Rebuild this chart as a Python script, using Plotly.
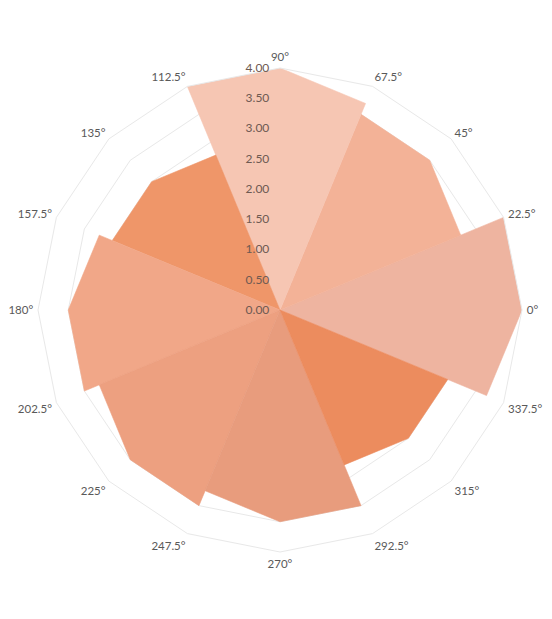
import plotly.graph_objects as go

# Category labels around the radar (16 directions)
angle_labels = ["0°", "22.5°", "45°", "67.5°", "90°", "112.5°", "135°", "157.5°",
                "180°", "202.5°", "225°", "247.5°", "270°", "292.5°", "315°", "337.5°"]

# Wedge directions and their values
wedge_dirs = ["0°", "45°", "90°", "135°", "180°", "225°", "270°", "315°"]
wedge_vals = [4.0, 3.5, 4.0, 3.0, 3.5, 3.5, 3.5, 3.0]
wedge_colors = ["#EEB4A0", "#F3B297", "#F6C6B3", "#EF9669",
                "#F1A788", "#EDA080", "#E89C7D", "#EC8C5E"]

radial_ticks = [0, 0.5, 1.0, 1.5, 2.0, 2.5, 3.0, 3.5, 4.0]

fig = go.Figure()
fig.add_trace(go.Barpolar(
    r=wedge_vals,
    theta=wedge_dirs,
    width=[2] * len(wedge_vals),
    marker=dict(color=wedge_colors, line=dict(width=0.6, color=wedge_colors)),
    opacity=1,
    hoverinfo="r+theta",
))

W, H = 552, 619
R = 242
cx, cy = 280, 310

fig.update_layout(
    width=W, height=H,
    margin=dict(l=0, r=0, t=0, b=0),
    paper_bgcolor="white",
    plot_bgcolor="white",
    showlegend=False,
    font=dict(family="Lato, 'Open Sans', sans-serif", size=12, color="#595959"),
    polar=dict(
        domain=dict(x=[(cx - R) / W, (cx + R) / W],
                    y=[(H - cy - R) / H, (H - cy + R) / H]),
        bgcolor="white",
        gridshape="linear",
        angularaxis=dict(
            type="category",
            categoryarray=angle_labels,
            direction="counterclockwise",
            rotation=0,
            showgrid=False,
            showline=True,
            linecolor="#E8E8E8",
            linewidth=1,
            ticks="outside",
            ticklen=2,
            tickcolor="rgba(0,0,0,0)",
            tickfont=dict(size=11.5, color="#595959"),
        ),
        radialaxis=dict(
            range=[0, 4],
            tickvals=radial_ticks,
            tickformat=".2f",
            angle=90,
            tickangle=90,
            side="counterclockwise",
            showline=False,
            ticks="outside",
            ticklen=6,
            tickcolor="rgba(0,0,0,0)",
            gridcolor="#E8E8E8",
            gridwidth=1,
            tickfont=dict(size=12, color="#6E5A52"),
        ),
    ),
)

fig.write_html("out.html")
